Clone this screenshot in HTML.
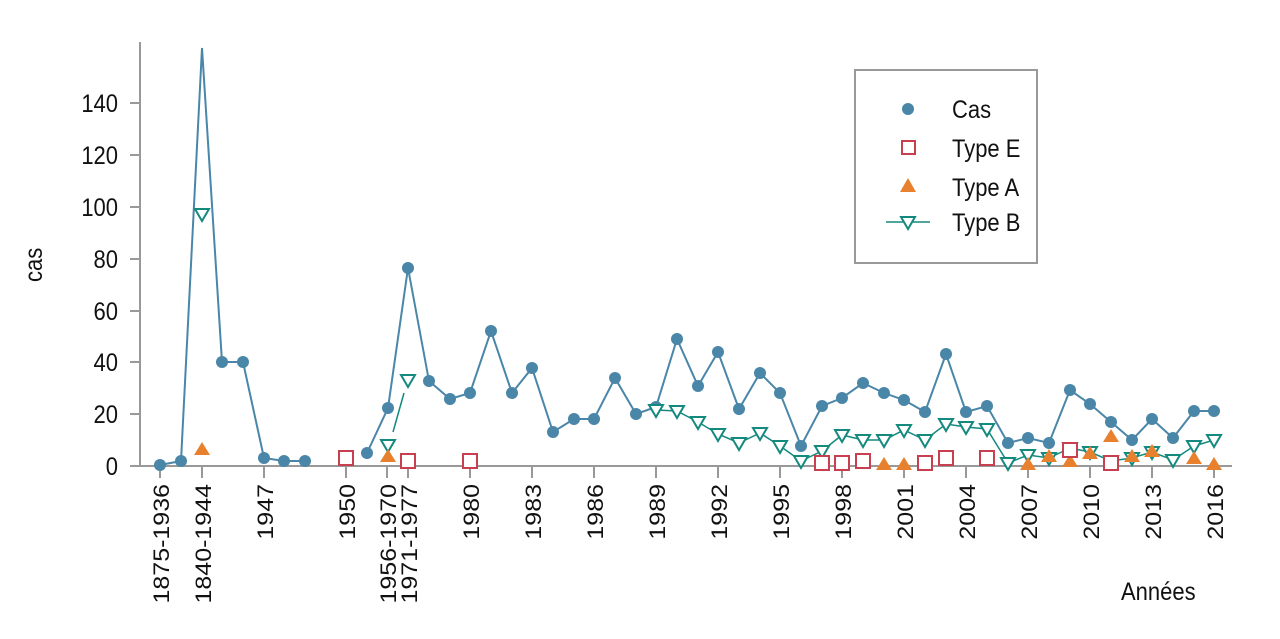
<!DOCTYPE html>
<html><head><meta charset="utf-8"><style>body{margin:0;background:#fff}svg{display:block}text{font-family:"Liberation Sans",sans-serif;fill:#111}</style></head><body>
<svg width="1280" height="639" viewBox="0 0 1280 639">
<g stroke="#999" stroke-width="2" fill="none">
<line x1="140" y1="42" x2="140" y2="467"/>
<line x1="130" y1="466" x2="1232" y2="466"/>
<line x1="130" y1="103" x2="140" y2="103"/><line x1="130" y1="155" x2="140" y2="155"/><line x1="130" y1="207" x2="140" y2="207"/><line x1="130" y1="259" x2="140" y2="259"/><line x1="130" y1="311" x2="140" y2="311"/><line x1="130" y1="362" x2="140" y2="362"/><line x1="130" y1="414" x2="140" y2="414"/>
<path d="M160 466v12M202 466v12M264 466v12M346 466v12M387 466v12M408 466v12M470 466v12M532 466v12M594 466v12M656 466v12M718 466v12M780 466v12M842 466v12M904 466v12M966 466v12M1028 466v12M1090 466v12M1152 466v12M1214 466v12"/>
</g>
<g font-size="25" text-anchor="end">
<text transform="translate(118,112) scale(0.88,1)">140</text><text transform="translate(118,164) scale(0.88,1)">120</text><text transform="translate(118,216) scale(0.88,1)">100</text><text transform="translate(118,268) scale(0.88,1)">80</text><text transform="translate(118,320) scale(0.88,1)">60</text><text transform="translate(118,371) scale(0.88,1)">40</text><text transform="translate(118,423) scale(0.88,1)">20</text><text transform="translate(118,475) scale(0.88,1)">0</text>
</g>
<text font-size="25" transform="translate(42,282) rotate(-90) scale(0.88,1)">cas</text>
<text font-size="25" transform="translate(1121,600) scale(0.88,1)">Années</text>
<g font-size="25" text-anchor="end">
<text transform="translate(169,484) rotate(-90) scale(1,0.88)">1875-1936</text>
<text transform="translate(211,484) rotate(-90) scale(1,0.88)">1840-1944</text>
<text transform="translate(273,484) rotate(-90) scale(1,0.88)">1947</text>
<text transform="translate(355,484) rotate(-90) scale(1,0.88)">1950</text>
<text transform="translate(396,484) rotate(-90) scale(1,0.88)">1956-1970</text>
<text transform="translate(417,484) rotate(-90) scale(1,0.88)">1971-1977</text>
<text transform="translate(479,484) rotate(-90) scale(1,0.88)">1980</text>
<text transform="translate(541,484) rotate(-90) scale(1,0.88)">1983</text>
<text transform="translate(603,484) rotate(-90) scale(1,0.88)">1986</text>
<text transform="translate(665,484) rotate(-90) scale(1,0.88)">1989</text>
<text transform="translate(727,484) rotate(-90) scale(1,0.88)">1992</text>
<text transform="translate(789,484) rotate(-90) scale(1,0.88)">1995</text>
<text transform="translate(851,484) rotate(-90) scale(1,0.88)">1998</text>
<text transform="translate(913,484) rotate(-90) scale(1,0.88)">2001</text>
<text transform="translate(975,484) rotate(-90) scale(1,0.88)">2004</text>
<text transform="translate(1037,484) rotate(-90) scale(1,0.88)">2007</text>
<text transform="translate(1099,484) rotate(-90) scale(1,0.88)">2010</text>
<text transform="translate(1161,484) rotate(-90) scale(1,0.88)">2013</text>
<text transform="translate(1223,484) rotate(-90) scale(1,0.88)">2016</text>
</g>
<g stroke="#4a86a8" stroke-width="2" fill="none">
<polyline points="160,465 181,461 202,48 222,362 243,362 264,458 284,461 305,461"/>
<polyline points="367,453 388,408 408,268 429,381 450,399 470,393 491,331 512,393 532,368 553,432 574,419 594,419 615,378 636,414 656,407 677,339 698,386 718,352 739,409 760,373 780,393 801,446 822,406 842,398 863,383 884,393 904,400 925,412 946,354 966,412 987,406 1008,443 1028,438 1049,443 1070,390 1090,404 1111,422 1132,440 1152,419 1173,438 1194,411 1214,411"/>
</g>
<g fill="#4a86a8">
<circle cx="160" cy="465" r="6"/><circle cx="181" cy="461" r="6"/><circle cx="222" cy="362" r="6"/><circle cx="243" cy="362" r="6"/><circle cx="264" cy="458" r="6"/><circle cx="284" cy="461" r="6"/><circle cx="305" cy="461" r="6"/>
<circle cx="367" cy="453" r="6"/><circle cx="388" cy="408" r="6"/><circle cx="408" cy="268" r="6"/><circle cx="429" cy="381" r="6"/><circle cx="450" cy="399" r="6"/><circle cx="470" cy="393" r="6"/><circle cx="491" cy="331" r="6"/><circle cx="512" cy="393" r="6"/><circle cx="532" cy="368" r="6"/><circle cx="553" cy="432" r="6"/><circle cx="574" cy="419" r="6"/><circle cx="594" cy="419" r="6"/><circle cx="615" cy="378" r="6"/><circle cx="636" cy="414" r="6"/><circle cx="656" cy="407" r="6"/><circle cx="677" cy="339" r="6"/><circle cx="698" cy="386" r="6"/><circle cx="718" cy="352" r="6"/><circle cx="739" cy="409" r="6"/><circle cx="760" cy="373" r="6"/><circle cx="780" cy="393" r="6"/><circle cx="801" cy="446" r="6"/><circle cx="822" cy="406" r="6"/><circle cx="842" cy="398" r="6"/><circle cx="863" cy="383" r="6"/><circle cx="884" cy="393" r="6"/><circle cx="904" cy="400" r="6"/><circle cx="925" cy="412" r="6"/><circle cx="946" cy="354" r="6"/><circle cx="966" cy="412" r="6"/><circle cx="987" cy="406" r="6"/><circle cx="1008" cy="443" r="6"/><circle cx="1028" cy="438" r="6"/><circle cx="1049" cy="443" r="6"/><circle cx="1070" cy="390" r="6"/><circle cx="1090" cy="404" r="6"/><circle cx="1111" cy="422" r="6"/><circle cx="1132" cy="440" r="6"/><circle cx="1152" cy="419" r="6"/><circle cx="1173" cy="438" r="6"/><circle cx="1194" cy="411" r="6"/><circle cx="1214" cy="411" r="6"/>
</g>
<g stroke="#14897e" stroke-width="1.5" fill="none">
<line x1="393" y1="432" x2="404" y2="393"/>
<polyline points="656,410 677,411 698,422 718,434 739,443 760,433 780,446 801,461 822,451 842,435 863,440 884,440 904,430 925,440 946,424 966,427 987,429 1008,463 1028,455 1049,458 1070,448 1090,452 1111,461 1132,458 1152,452 1173,460 1194,446 1214,440"/>
</g>
<g fill="#fff" stroke="#14897e" stroke-width="2">
<path d="M-7,-5 L7,-5 L0,7 Z" transform="translate(202,214)"/>
<path d="M-7,-5 L7,-5 L0,7 Z" transform="translate(388,445)"/>
<path d="M-7,-5 L7,-5 L0,7 Z" transform="translate(408,380)"/>
<path d="M-7,-5 L7,-5 L0,7 Z" transform="translate(656,410)"/><path d="M-7,-5 L7,-5 L0,7 Z" transform="translate(677,411)"/><path d="M-7,-5 L7,-5 L0,7 Z" transform="translate(698,422)"/><path d="M-7,-5 L7,-5 L0,7 Z" transform="translate(718,434)"/><path d="M-7,-5 L7,-5 L0,7 Z" transform="translate(739,443)"/><path d="M-7,-5 L7,-5 L0,7 Z" transform="translate(760,433)"/><path d="M-7,-5 L7,-5 L0,7 Z" transform="translate(780,446)"/><path d="M-7,-5 L7,-5 L0,7 Z" transform="translate(801,461)"/><path d="M-7,-5 L7,-5 L0,7 Z" transform="translate(822,451)"/><path d="M-7,-5 L7,-5 L0,7 Z" transform="translate(842,435)"/><path d="M-7,-5 L7,-5 L0,7 Z" transform="translate(863,440)"/><path d="M-7,-5 L7,-5 L0,7 Z" transform="translate(884,440)"/><path d="M-7,-5 L7,-5 L0,7 Z" transform="translate(904,430)"/><path d="M-7,-5 L7,-5 L0,7 Z" transform="translate(925,440)"/><path d="M-7,-5 L7,-5 L0,7 Z" transform="translate(946,424)"/><path d="M-7,-5 L7,-5 L0,7 Z" transform="translate(966,427)"/><path d="M-7,-5 L7,-5 L0,7 Z" transform="translate(987,429)"/><path d="M-7,-5 L7,-5 L0,7 Z" transform="translate(1008,463)"/><path d="M-7,-5 L7,-5 L0,7 Z" transform="translate(1028,455)"/><path d="M-7,-5 L7,-5 L0,7 Z" transform="translate(1049,458)"/><path d="M-7,-5 L7,-5 L0,7 Z" transform="translate(1070,448)"/><path d="M-7,-5 L7,-5 L0,7 Z" transform="translate(1090,452)"/><path d="M-7,-5 L7,-5 L0,7 Z" transform="translate(1111,461)"/><path d="M-7,-5 L7,-5 L0,7 Z" transform="translate(1132,458)"/><path d="M-7,-5 L7,-5 L0,7 Z" transform="translate(1152,452)"/><path d="M-7,-5 L7,-5 L0,7 Z" transform="translate(1173,460)"/><path d="M-7,-5 L7,-5 L0,7 Z" transform="translate(1194,446)"/><path d="M-7,-5 L7,-5 L0,7 Z" transform="translate(1214,440)"/>
</g>
<g fill="#e8812e">
<path d="M-8,6 L8,6 L0,-7 Z" transform="translate(202,449)"/><path d="M-8,6 L8,6 L0,-7 Z" transform="translate(388,456)"/><path d="M-8,6 L8,6 L0,-7 Z" transform="translate(884,464)"/><path d="M-8,6 L8,6 L0,-7 Z" transform="translate(904,464)"/><path d="M-8,6 L8,6 L0,-7 Z" transform="translate(1028,464)"/><path d="M-8,6 L8,6 L0,-7 Z" transform="translate(1049,456)"/><path d="M-8,6 L8,6 L0,-7 Z" transform="translate(1070,461)"/><path d="M-8,6 L8,6 L0,-7 Z" transform="translate(1090,453)"/><path d="M-8,6 L8,6 L0,-7 Z" transform="translate(1111,436)"/><path d="M-8,6 L8,6 L0,-7 Z" transform="translate(1132,456)"/><path d="M-8,6 L8,6 L0,-7 Z" transform="translate(1152,451)"/><path d="M-8,6 L8,6 L0,-7 Z" transform="translate(1194,458)"/><path d="M-8,6 L8,6 L0,-7 Z" transform="translate(1214,464)"/>
</g>
<g fill="#fff" stroke="#c8404f" stroke-width="2">
<rect x="339" y="451" width="14" height="14"/><rect x="401" y="454" width="14" height="14"/><rect x="463" y="454" width="14" height="14"/><rect x="815" y="456" width="14" height="14"/><rect x="835" y="456" width="14" height="14"/><rect x="856" y="454" width="14" height="14"/><rect x="918" y="456" width="14" height="14"/><rect x="939" y="451" width="14" height="14"/><rect x="980" y="451" width="14" height="14"/><rect x="1063" y="443" width="14" height="14"/><rect x="1104" y="456" width="14" height="14"/>
</g>
<rect x="855" y="70" width="182" height="193" fill="#fff" stroke="#999" stroke-width="2"/>
<circle cx="908" cy="109" r="6" fill="#4a86a8"/>
<rect x="902" y="141" width="13" height="13" fill="#fff" stroke="#c8404f" stroke-width="2"/>
<path d="M900,192 L916,192 L908,178 Z" fill="#e8812e"/>
<line x1="886" y1="222" x2="930" y2="222" stroke="#14897e" stroke-width="1.5"/>
<path d="M901,217 L915,217 L908,229 Z" fill="#fff" stroke="#14897e" stroke-width="2"/>
<g font-size="25"><text transform="translate(952,118) scale(0.88,1)">Cas</text><text transform="translate(952,157) scale(0.88,1)">Type E</text><text transform="translate(952,196) scale(0.88,1)">Type A</text><text transform="translate(952,231) scale(0.88,1)">Type B</text></g>
</svg>
</body></html>
